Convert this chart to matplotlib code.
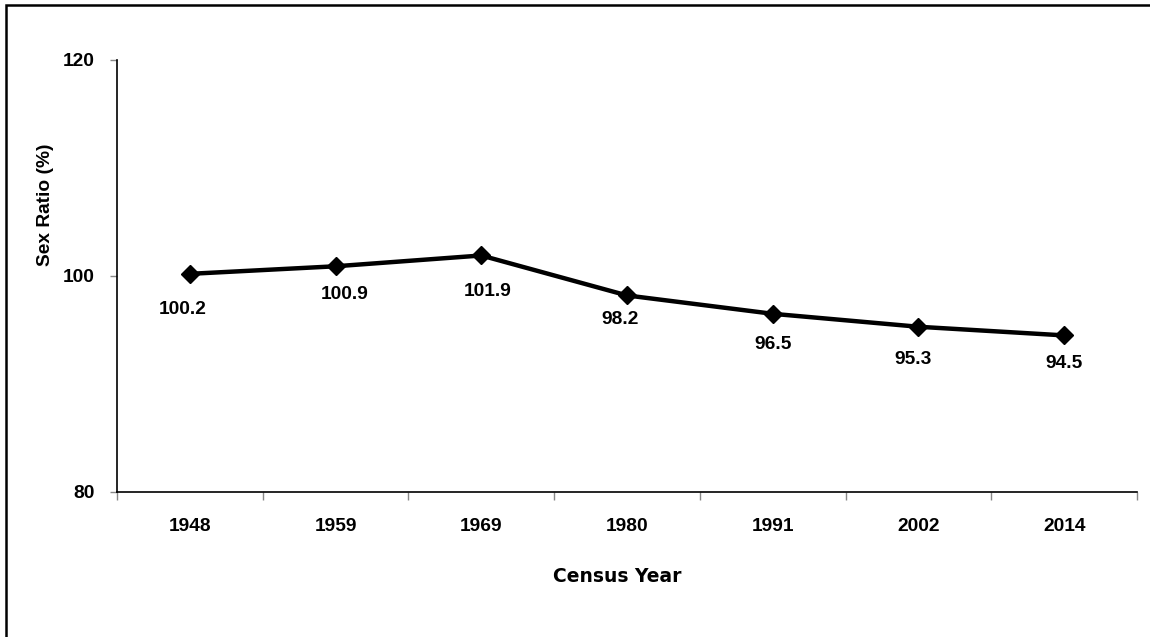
import numpy as np
import matplotlib
matplotlib.use('Agg')
from matplotlib import pyplot as plt
from matplotlib.patches import Rectangle

# census years and sex ratio values (%)
years = ['1948', '1959', '1969', '1980', '1991', '2002', '2014']
ratio = [100.2, 100.9, 101.9, 98.2, 96.5, 95.3, 94.5]
yticks = [80, 100, 120]

# label offsets in pixels (dx, dy below point)
lab_dx = [-7, 9, 6, -7, 0, -5, 0]
lab_dy = [-36, -28, -36, -24, -31, -33, -28]

FS = 13.8
plt.rcParams['font.family'] = ['Liberation Sans', 'DejaVu Sans']
plt.rcParams['font.weight'] = 'bold'

fig = plt.figure(figsize=(11.5, 6.37), dpi=100)
ax = fig.add_axes([117/1150, 1 - 492/637, 1020/1150, 432/637])

x = np.arange(len(years))
ax.plot(x, ratio, color='black', lw=3.2, marker='D', markersize=9.5,
        solid_joinstyle='miter')

for i, v in enumerate(ratio):
    ax.annotate('%.1f' % v, (x[i], v), xytext=(lab_dx[i], lab_dy[i]),
                textcoords='offset pixels', ha='center', va='center',
                fontsize=FS, fontweight='bold')

ax.set_xlim(-0.5, len(years) - 0.5)
ax.set_ylim(80, 120)
ax.set_yticks(yticks)
ax.set_yticklabels([str(t) for t in yticks], fontsize=FS, fontweight='bold')

# category boundaries as tick marks, names in the middle
ax.set_xticks(np.arange(-0.5, len(years), 1.0))
ax.set_xticklabels([])
ax.set_xticks(x, minor=True)
ax.set_xticklabels(years, minor=True, fontsize=FS, fontweight='bold')
ax.tick_params(axis='x', which='major', direction='out', length=6,
               color='#888888', width=1)
ax.tick_params(axis='x', which='minor', length=0, pad=19)
ax.tick_params(axis='y', direction='out', length=5, color='#888888',
               width=1, pad=11)

ax.spines['top'].set_visible(False)
ax.spines['right'].set_visible(False)
ax.spines['left'].set_linewidth(1.2)
ax.spines['bottom'].set_linewidth(1.2)

ax.set_ylabel('Sex Ratio (%)', fontsize=FS, fontweight='bold')
ax.yaxis.set_label_coords((54 - 117) / 1020, (492 - 205) / 432)

fig.text(617 / 1150, 1 - 577 / 637, 'Census Year', ha='center', va='center',
         fontsize=13.5, fontweight='bold', family='DejaVu Sans')

# outer frame (right and bottom edges fall outside the picture)
fig.patches.append(Rectangle((5.5 / 1150, -0.1), 1.2, 1.1 - 5 / 637,
                             transform=fig.transFigure, fill=False,
                             edgecolor='black', lw=1.8))

fig.savefig('out.png', dpi=100)
